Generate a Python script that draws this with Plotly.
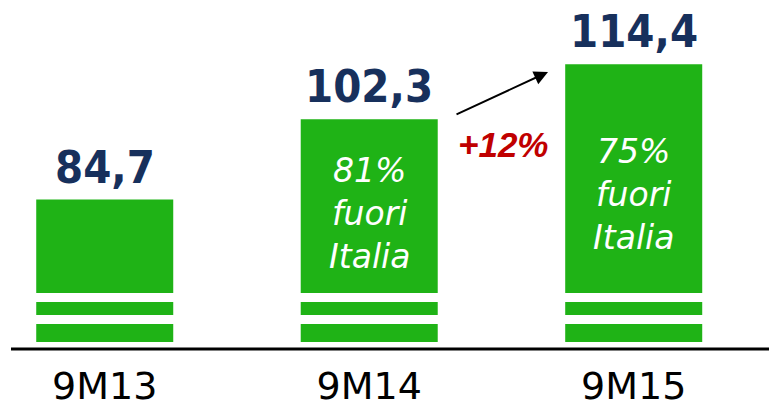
import plotly.graph_objects as go

categories = ["9M13", "9M14", "9M15"]
values = [84.7, 102.3, 114.4]
value_labels = ["84,7", "102,3", "114,4"]
inner_labels = ["", "81%<br>fuori<br>Italia", "75%<br>fuori<br>Italia"]
inner_label_y = [None, 81.6, 85.8]
growth_label = "+12%"

GREEN = "#1FB316"
NAVY = "#17305C"
RED = "#C00000"
BOLD_FONT = "DejaVu Sans Condensed, DejaVu Sans, sans-serif"

fig = go.Figure()
fig.add_trace(go.Bar(
    x=categories, y=values,
    marker=dict(color=GREEN, line=dict(width=0)),
    width=0.518,
    cliponaxis=False,
    hoverinfo="skip",
))

for cat, v, lab in zip(categories, values, value_labels):
    fig.add_annotation(x=cat, y=v, xref="x", yref="y", text=lab, showarrow=False,
                       yanchor="bottom", yshift=4,
                       font=dict(family=BOLD_FONT, size=45, color=NAVY, weight="bold"))

for cat, lab, ly in zip(categories, inner_labels, inner_label_y):
    if lab:
        fig.add_annotation(x=cat, y=ly, xref="x", yref="y", text=lab, showarrow=False,
                           font=dict(family="DejaVu Sans, sans-serif", size=33, color="white",
                                     style="italic"),
                           align="center")

# growth arrow and label
fig.add_annotation(x=1.676, y=112.7, xref="x", yref="y", ax=-93, ay=43,
                   axref="pixel", ayref="pixel", showarrow=True, arrowhead=2,
                   arrowsize=1.4, arrowwidth=2, arrowcolor="black", text="")
fig.add_annotation(x=1.506, y=96.7, xref="x", yref="y", text=growth_label, showarrow=False,
                   font=dict(family="Liberation Sans, Arial, sans-serif", size=35, color=RED,
                             weight="bold", style="italic"))

# broken-axis white stripes
for y0, y1 in [(0.117, 0.1433), (0.0526, 0.0789)]:
    fig.add_shape(type="rect", xref="paper", yref="paper", x0=0, x1=1, y0=y0, y1=y1,
                  fillcolor="white", line=dict(width=0), layer="above")
# baseline
fig.add_shape(type="line", xref="paper", yref="paper", x0=11/769, x1=1, y0=-0.0205, y1=-0.0205,
              line=dict(color="black", width=3))

fig.update_layout(
    width=769, height=407,
    margin=dict(l=0, r=0, t=0, b=65),
    paper_bgcolor="white", plot_bgcolor="white",
    showlegend=False,
    xaxis=dict(range=[-0.396, 2.5115], showgrid=False, zeroline=False, showline=False,
               ticks="", tickfont=dict(family="DejaVu Sans, sans-serif", size=38, color="black"),
               automargin=False, ticklabelstandoff=18, fixedrange=True),
    yaxis=dict(range=[53.43, 128.5], visible=False, fixedrange=True),
)

fig.write_html("out.html", config={"displayModeBar": False},
               post_script="document.body.style.margin='0';document.body.style.overflow='hidden';")
